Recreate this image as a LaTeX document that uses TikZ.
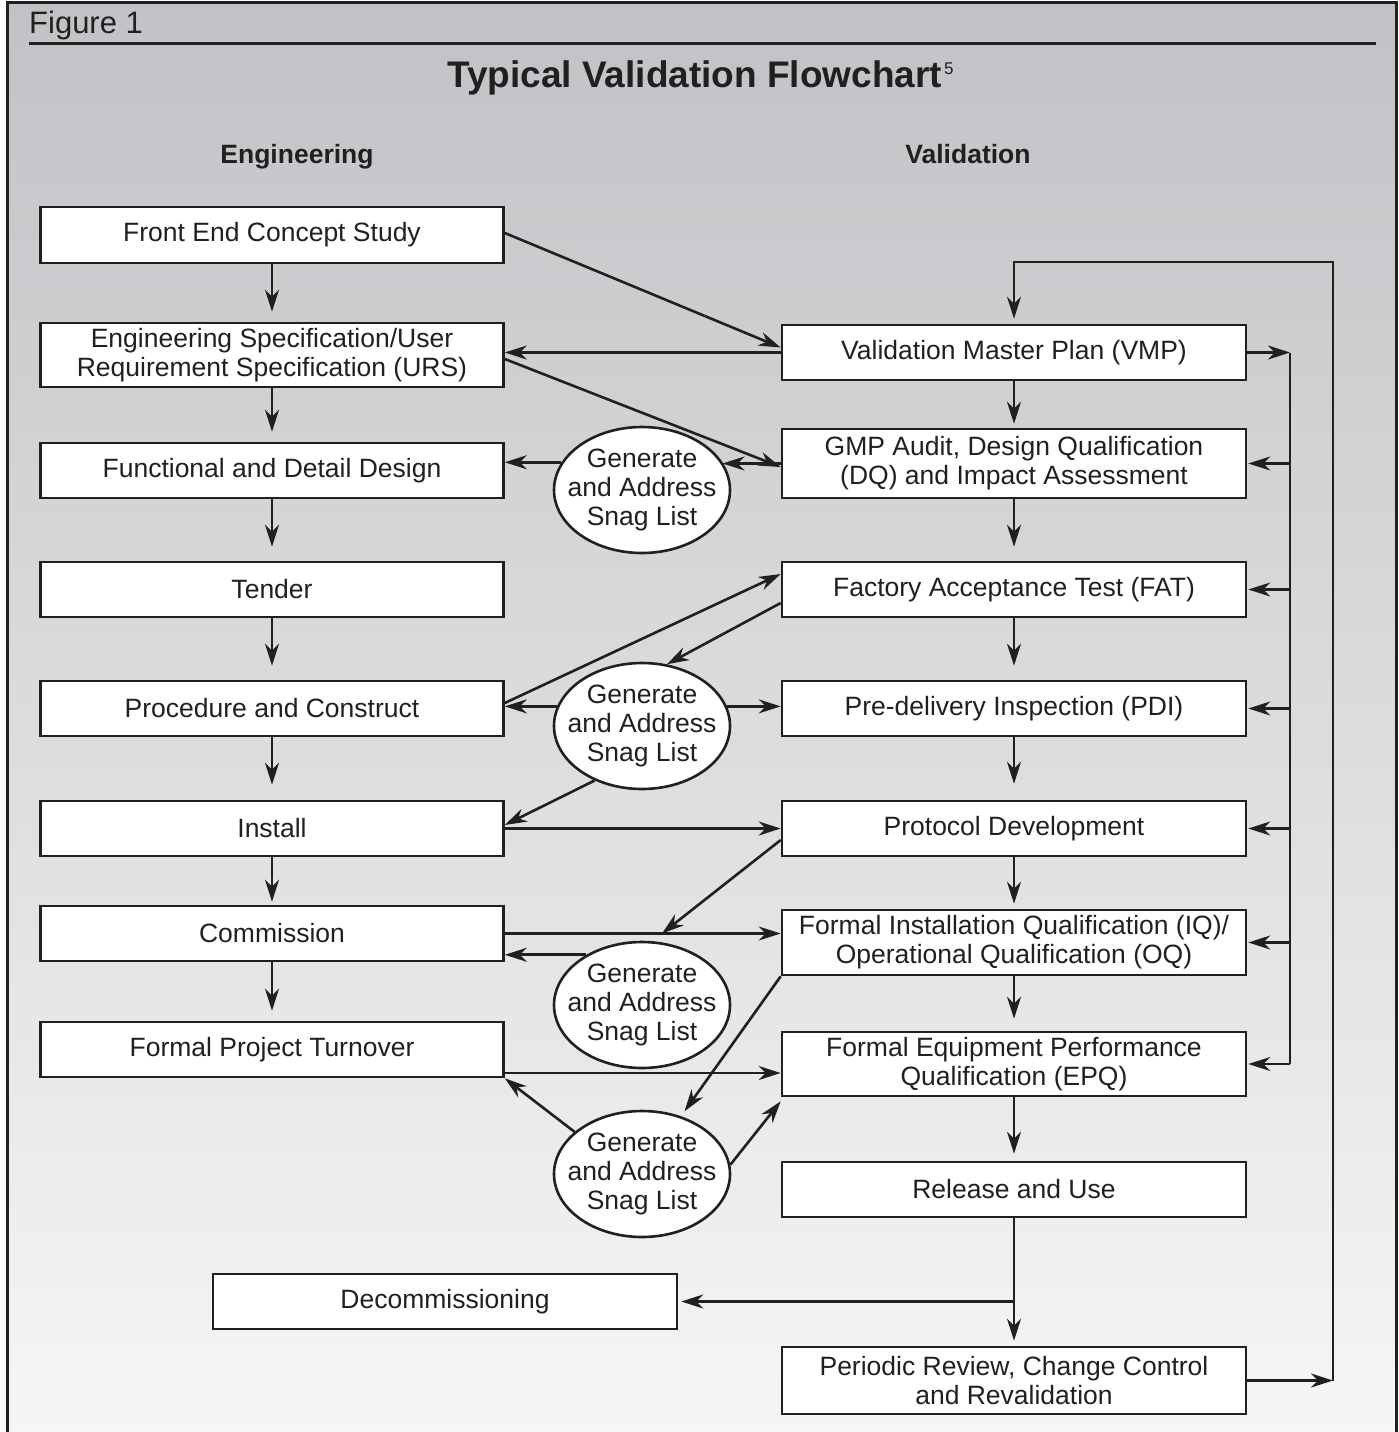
\documentclass[tikz,border=0pt]{standalone}
\usepackage{fontspec}
\setmainfont{Liberation Sans}
\usetikzlibrary{arrows.meta,shapes.geometric}
\definecolor{ink}{RGB}{35,31,32}
\definecolor{bgtop}{RGB}{193,194,197}
\definecolor{bgbot}{RGB}{246,246,246}
\begin{document}
\begin{tikzpicture}[x=1pt,y=-1pt,
  every node/.style={text=ink},
  boxtext/.style={font=\fontsize{26.5pt}{29pt}\selectfont},
  stepbox/.style={draw=ink, fill=white, line width=2.6pt, inner sep=0pt, align=center, boxtext},
  lbox/.style={stepbox, minimum width=463pt},
  rbox/.style={stepbox, minimum width=464pt},
  snag/.style={ellipse, draw=ink, fill=white, line width=2.6pt, minimum width=176pt, minimum height=126pt, inner sep=0pt},
  snagtext/.style={boxtext, align=center, inner sep=0pt},
  link/.style={draw=ink, line width=2.6pt, -{Stealth[length=22pt,width=14pt,inset=7pt]}},
  wire/.style={draw=ink, line width=2.6pt},
  head/.style={font=\fontsize{26.5pt}{29pt}\selectfont\bfseries, anchor=base},
]
\useasboundingbox (0,0) rectangle (1399,1432);

% panel background and frame
\shade[top color=bgtop, bottom color=bgbot] (7,2) rectangle (1396,1440);
\draw[ink, line width=3pt] (7,1440) -- (7,2) -- (1396,2) -- (1396,1440);

% header
\node[anchor=base west, inner sep=0pt, font=\fontsize{31pt}{34pt}\selectfont] (fig) at (29,33) {Figure 1};
\draw[ink, line width=3pt] (29,43.5) -- (1376,43.5);
\node[anchor=base west, inner sep=0pt, font=\fontsize{37pt}{40pt}\selectfont\bfseries] (title) at (447,87)
  {Typical Validation Flowchart\kern2pt\raisebox{13pt}{\fontsize{17pt}{17pt}\selectfont\mdseries 5}};
\node[head] (heng) at (297,163) {Engineering};
\node[head] (hval) at (968,163) {Validation};

% engineering column
\node[lbox, minimum height=56pt] (fe) at (272,235) {Front End Concept Study};
\node[lbox, minimum height=64pt] (urs) at (272,355) {Engineering Specification/User\\Requirement Specification (URS)};
\node[lbox, minimum height=55pt] (fdd) at (272,470.5) {Functional and Detail Design};
\node[lbox, minimum height=55pt] (tender) at (272,589.5) {Tender};
\node[lbox, minimum height=55pt] (pc) at (272,708.5) {Procedure and Construct};
\node[lbox, minimum height=55pt] (inst) at (272,828.5) {Install};
\node[lbox, minimum height=55pt] (comm) at (272,933.5) {Commission};
\node[lbox, minimum height=55pt] (fpt) at (272,1049.5) {Formal Project Turnover};
\node[rbox, minimum height=55pt] (decom) at (445,1301.5) {Decommissioning};

% validation column
\node[rbox, minimum height=55pt] (vmp) at (1014,352.5) {Validation Master Plan (VMP)};
\node[rbox, minimum height=69pt] (gmp) at (1014,463.5) {GMP Audit, Design Qualification\\(DQ) and Impact Assessment};
\node[rbox, minimum height=55pt] (fat) at (1014,589.5) {Factory Acceptance Test (FAT)};
\node[rbox, minimum height=55pt] (pdi) at (1014,708.5) {Pre-delivery Inspection (PDI)};
\node[rbox, minimum height=55pt] (proto) at (1014,828.5) {Protocol Development};
\node[rbox, minimum height=65pt] (iq) at (1014,942.5) {Formal Installation Qualification (IQ)/\\Operational Qualification (OQ)};
\node[rbox, minimum height=64pt] (epq) at (1014,1064) {Formal Equipment Performance\\Qualification (EPQ)};
\node[rbox, minimum height=55pt] (rel) at (1014,1189.5) {Release and Use};
\node[rbox, minimum height=67pt] (per) at (1014,1380.5) {Periodic Review, Change Control\\and Revalidation};

% snag list ellipses
\foreach \e/\y in {e1/490, e2/726, e3/1005, e4/1174} {
  \node[snag] (\e) at (642,\y) {};
  \node[snagtext] (\e t) at (\e) {Generate\\and Address\\Snag List};
}

% helper points
\coordinate (bus) at (1290,0);
\coordinate (loop) at (1333,262);
\coordinate (j1) at (662,933.5);
\coordinate (split) at (rel.south |- decom.east);

% vertical flow, engineering
\foreach \a/\b/\s in {fe/urs/10, urs/fdd/10, fdd/tender/14, tender/pc/14, pc/inst/15, inst/comm/3, comm/fpt/10}
  \draw[link, shorten >=\s pt] (\a.south) -- (\b.north);

% vertical flow, validation
\foreach \a/\b/\s in {vmp/gmp/4, gmp/fat/14, fat/pdi/14, pdi/proto/16, proto/iq/5, iq/epq/12, epq/rel/7}
  \draw[link, shorten >=\s pt] (\a.south) -- (\b.north);
\draw[link, shorten >=5pt] (rel.south) -- (per.north);
\draw[link, shorten >=3pt] (split) -- (decom.east);

% revalidation loop
\draw[link] (per.east) -- (per.east -| loop);
\draw[link, shorten >=5pt] (per.east -| loop) -- (loop) -| (vmp.north);

% change-control bus
\draw[link] (vmp.east) -- (vmp.east -| bus);
\draw[wire] (vmp.east -| bus) -- (epq.east -| bus);
\foreach \n in {gmp,fat,pdi,proto,iq,epq}
  \draw[link, shorten >=1pt] (\n.east -| bus) -- (\n.east);

% cross links between the columns
\draw[link] ([yshift=2pt]fe.east) -- ([yshift=5pt]vmp.west);
\draw[link] (vmp.west) -- (vmp.west -| urs.east);
\draw[link] ([yshift=-4pt]urs.east) -- ([yshift=-3.5pt]gmp.west);
\draw[link] (gmp.west) -- (gmp.west -| e1.19);
\draw[link] (e1.161) -- (e1.161 -| fdd.east);

\draw[link] ([yshift=5.5pt]pc.east) -- ([yshift=15.5pt]fat.west);
\draw[link] ([yshift=-13.5pt]fat.west) -- (e2.68);
\draw[link] (e2.167) -- (e2.167 -| pc.east);
\draw[link] (e2.13) -- (e2.13 -| pdi.west);
\draw[link] (e2.229) -- ([yshift=3.5pt]inst.east);
\draw[link] (inst.east) -- (inst.east -| proto.west);

\draw[link] ([yshift=-11.5pt]proto.west) -- (j1);
\draw[link] (comm.east) -- (comm.east -| iq.west);
\draw[link] (e3.138) -- (e3.138 -| comm.east);

\draw[link, shorten >=6pt] (iq.south west) -- (e4.56);
\draw[link] ([yshift=-23.5pt]fpt.east) -- ([yshift=-23.5pt]fpt.east -| epq.west);
\draw[link] (e4.148) -- (fpt.south east);
\draw[link] (e4.6) -- ([yshift=-4pt]epq.south west);
\end{tikzpicture}
\end{document}
